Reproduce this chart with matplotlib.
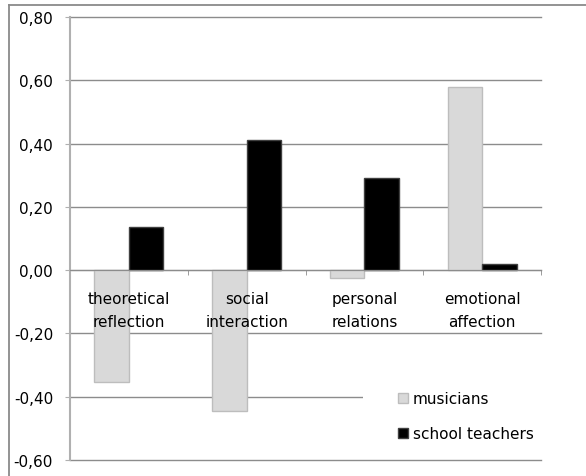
import matplotlib
matplotlib.use("Agg")
import matplotlib.pyplot as plt
import numpy as np
from matplotlib.patches import Rectangle
from matplotlib.lines import Line2D

categories = ["theoretical\nreflection", "social\ninteraction", "personal\nrelations", "emotional\naffection"]
musicians = [-0.355, -0.445, -0.024, 0.58]
teachers = [0.137, 0.41, 0.292, 0.02]
yticks = [-0.6, -0.4, -0.2, 0.0, 0.2, 0.4, 0.6, 0.8]

plt.rcParams['font.family'] = ['DejaVu Sans']
FS = 11

fig = plt.figure(figsize=(5.86, 4.77), dpi=100)
ax = fig.add_axes([70/586, 16/477, 471/586, 443/477])

# outer chart frame: only top and left edges are inside the picture
top = 1 - 5.5/477
left = 9.5/586
fig.lines.append(Line2D([left, 1], [top, top], transform=fig.transFigure, color='#8a8a8a', linewidth=1.3))
fig.lines.append(Line2D([left, left], [0, top], transform=fig.transFigure, color='#8a8a8a', linewidth=1.3))

x = np.arange(len(categories))
w = 0.293
ax.bar(x - w/2, musicians, w, color='#d9d9d9', edgecolor='#bdbdbd', linewidth=1, zorder=3, label='musicians')
ax.bar(x + w/2, teachers, w, color='black', edgecolor='#404040', linewidth=1, zorder=3, label='school teachers')

ax.set_xlim(-0.5, 3.5)
ax.set_ylim(-0.6, 0.8)
ax.set_yticks(yticks)
ax.set_yticklabels([f"{v:.2f}".replace('.', ',') for v in yticks], fontsize=FS)
ax.yaxis.grid(True, color='#8c8c8c', linewidth=1)
for gl in ax.get_ygridlines():
    gl.set_clip_on(False)
ax.set_axisbelow(True)

for s in ['top', 'right']:
    ax.spines[s].set_visible(False)
ax.spines['left'].set_color('#b0b0b0')
ax.spines['left'].set_linewidth(1.5)
ax.spines['bottom'].set_position(('data', 0))
ax.spines['bottom'].set_color('#8c8c8c')
ax.spines['bottom'].set_zorder(4)

ax.tick_params(axis='y', length=3.6, color='#b0b0b0', pad=8.6)
ax.set_xticks(x)
ax.set_xticklabels([])
ax.tick_params(axis='x', which='major', length=0)
ax.set_xticks(np.arange(-0.5, 4.0, 1.0), minor=True)
ax.tick_params(axis='x', which='minor', length=3.6, color='#8c8c8c', direction='out')

# category labels drawn over the bars
for xi, lab in zip(x, categories):
    ax.text(xi, -0.065, lab, ha='center', va='top', fontsize=FS, linespacing=1.7, zorder=6)

# white legend area covering grid lines
ax.add_patch(Rectangle((0.622, 0.02), 0.4, 0.235, transform=ax.transAxes,
                       facecolor='white', edgecolor='none', zorder=2, clip_on=False))
ax.legend(loc='upper left', bbox_to_anchor=(0.696, 0.155), frameon=False, fontsize=FS,
          handlelength=0.65, handleheight=0.65, handletextpad=0.35, labelspacing=1.3,
          borderaxespad=0, borderpad=0)

fig.savefig("out.png", dpi=100)
